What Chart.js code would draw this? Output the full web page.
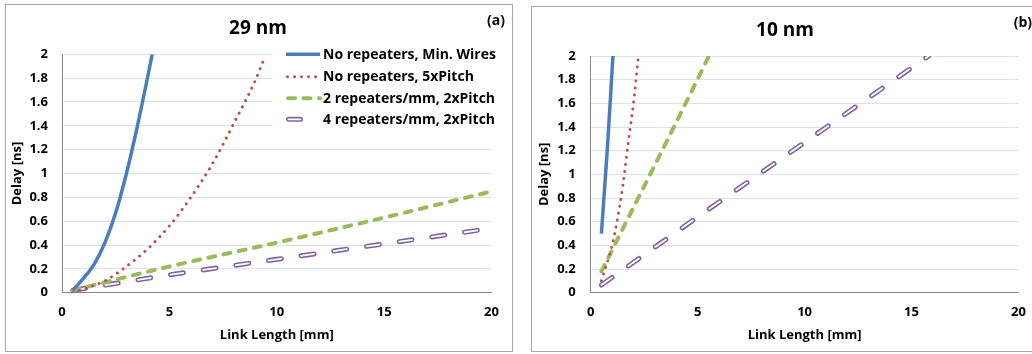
<!DOCTYPE html>
<html><head><meta charset="utf-8">
<script src="https://cdn.jsdelivr.net/npm/chart.js@4"></script>
<style>
html,body{margin:0;padding:0;background:#fff;overflow:hidden;width:1032px;height:354px}
.panel{position:absolute;border:1px solid #a6a6a6;background:#fff}
#pa{left:5px;top:4px;width:506px;height:346px}
#pb{left:531px;top:6px;width:506px;height:344px}
canvas{display:block}
</style></head><body>
<div class="panel" id="pa"><canvas id="ca" width="506" height="346"></canvas></div>
<div class="panel" id="pb"><canvas id="cb" width="506" height="344"></canvas></div>
<script>
// ---------- data ----------
const seriesNames = ['No repeaters, Min. Wires', 'No repeaters, 5xPitch', '2 repeaters/mm, 2xPitch', '4 repeaters/mm, 2xPitch'];
const xTickLabels = ['0', '5', '10', '15', '20'];
const yTickLabels = ['0', '0.2', '0.4', '0.6', '0.8', '1', '1.2', '1.4', '1.6', '1.8', '2'];

// Panel (a) 29 nm
const a_minWires_x = [0.5, 1, 1.5, 2, 2.5, 3, 3.5, 4, 4.2];
const a_minWires_y = [0.02, 0.12, 0.24, 0.42, 0.67, 1.00, 1.39, 1.82, 2.0];
const a_5xPitch_x = [0.5, 1, 2, 3, 4, 5, 6, 7, 8, 9, 9.45];
const a_5xPitch_y = [0.0, 0.03, 0.10, 0.22, 0.37, 0.56, 0.80, 1.08, 1.42, 1.78, 1.98];
const a_2rep_x = [0.5, 5, 10, 15, 20];
const a_2rep_y = [0.02, 0.22, 0.42, 0.63, 0.85];
const a_4rep_x = [0.5, 5, 10, 15, 20];
const a_4rep_y = [0.02, 0.15, 0.28, 0.41, 0.54];

// Panel (b) 10 nm
const b_minWires_x = [0.5, 0.78, 1.04];
const b_minWires_y = [0.5, 1.22, 2.0];
const b_5xPitch_x = [0.5, 1.0, 1.25, 1.5, 1.75, 2.0, 2.23];
const b_5xPitch_y = [0.1, 0.40, 0.62, 0.90, 1.26, 1.60, 2.0];
const b_2rep_x = [0.5, 2, 4, 5.5];
const b_2rep_y = [0.18, 0.72, 1.44, 1.99];
const b_4rep_x = [0.5, 5, 10, 15, 15.8];
const b_4rep_y = [0.065, 0.64, 1.27, 1.90, 2.0];

// ---------- styling ----------
const FONT = '"Open Sans", Lato, sans-serif';
const C_BLUE = '#4a7ebb', C_RED = '#c0504d', C_GREEN = '#9bbb59', C_PURPLE = '#8064a2';

function pts(xs, ys) { return xs.map((x, i) => ({x: x, y: ys[i]})); }

function makeDatasets(s) {
  return [
    {label: seriesNames[0], data: pts(s[0][0], s[0][1]), borderColor: C_BLUE, borderWidth: 3.5,
     cubicInterpolationMode: 'monotone', borderCapStyle: 'butt'},
    {label: seriesNames[1], data: pts(s[1][0], s[1][1]), borderColor: C_RED, borderWidth: 3,
     borderDash: [0.01, 7], borderCapStyle: 'round', cubicInterpolationMode: 'monotone'},
    {label: seriesNames[2], data: pts(s[2][0], s[2][1]), borderColor: C_GREEN, borderWidth: 4,
     borderDash: [7, 8.5], borderCapStyle: 'round', cubicInterpolationMode: 'monotone'},
    {label: 'inner', data: pts(s[3][0], s[3][1]), borderColor: '#ffffff', borderWidth: 1.8,
     borderDash: [13, 20], borderCapStyle: 'round'},
    {label: seriesNames[3], data: pts(s[3][0], s[3][1]), borderColor: C_PURPLE, borderWidth: 5,
     borderDash: [13, 20], borderCapStyle: 'round'}
  ];
}

function decorPlugin(cfg) {
  return {
    id: 'decor',
    beforeDatasetsDraw(chart) {
      if (!cfg.legend) return;
      const ctx = chart.ctx;
      const L = cfg.legend;
      ctx.save();
      ctx.fillStyle = '#ffffff';
      ctx.fillRect(L.box[0], L.box[1], L.box[2], L.box[3]);
      ctx.font = 'bold 14px ' + FONT;
      ctx.fillStyle = '#000';
      ctx.textBaseline = 'middle';
      ctx.textAlign = 'left';
      L.rows.forEach((y, i) => {
        ctx.save();
        ctx.beginPath();
        if (i === 0) {
          ctx.strokeStyle = C_BLUE; ctx.lineWidth = 3.5; ctx.lineCap = 'butt';
          ctx.moveTo(L.x0, y); ctx.lineTo(L.x1, y); ctx.stroke();
        } else if (i === 1) {
          ctx.strokeStyle = C_RED; ctx.lineWidth = 3; ctx.lineCap = 'round'; ctx.setLineDash([0.01, 7]);
          ctx.moveTo(L.x0 + 1.5, y); ctx.lineTo(L.x1, y); ctx.stroke();
        } else if (i === 2) {
          ctx.strokeStyle = C_GREEN; ctx.lineWidth = 4; ctx.lineCap = 'round'; ctx.setLineDash([7, 8.5]);
          ctx.moveTo(L.x0 + 2, y); ctx.lineTo(L.x1, y); ctx.stroke();
        } else {
          ctx.strokeStyle = C_PURPLE; ctx.lineWidth = 5; ctx.lineCap = 'round';
          ctx.moveTo(L.x0 + 2.5, y); ctx.lineTo(L.x0 + 14.5, y); ctx.stroke();
          ctx.beginPath(); ctx.strokeStyle = '#fff'; ctx.lineWidth = 1.8;
          ctx.moveTo(L.x0 + 2.5, y); ctx.lineTo(L.x0 + 14.5, y); ctx.stroke();
        }
        ctx.restore();
        ctx.fillText(seriesNames[i], L.tx, y + 0.5);
      });
      ctx.restore();
    },
    afterDraw(chart) {
      const ctx = chart.ctx;
      ctx.save();
      ctx.fillStyle = '#000';
      ctx.textBaseline = 'middle';
      ctx.font = 'bold 19px ' + FONT;
      ctx.textAlign = 'center';
      ctx.fillText(cfg.title, cfg.titleX, cfg.titleY);
      ctx.font = 'bold 14px ' + FONT;
      ctx.textAlign = 'right';
      ctx.fillText(cfg.tag, cfg.tagX, cfg.tagY);
      ctx.restore();
    }
  };
}

function makeChart(id, series, g) {
  return new Chart(document.getElementById(id), {
    type: 'line',
    data: {datasets: makeDatasets(series)},
    options: {
      responsive: false,
      animation: false,
      events: [],
      layout: {padding: {top: g.top, right: g.right, left: 0, bottom: 0}},
      elements: {point: {radius: 0}, line: {fill: false, tension: 0}},
      plugins: {legend: {display: false}, tooltip: {enabled: false}, title: {display: false}},
      scales: {
        x: {
          type: 'linear', min: 0, max: 20,
          afterFit(s) { s.height = g.xh; },
          afterBuildTicks(s) { s.ticks = xTickLabels.map(v => ({value: Number(v)})); },
          ticks: {stepSize: 5, padding: 12, color: '#000', font: {family: FONT, size: 13, weight: 'bold'},
                  callback: (v, i) => xTickLabels[i], maxRotation: 0, autoSkip: false},
          grid: {display: false, drawTicks: false},
          border: {display: true, color: '#868686', width: 1},
          title: {display: true, text: 'Link Length [mm]', color: '#000',
                  font: {family: FONT, size: 13, weight: 'bold'}, padding: {top: 0, bottom: 8}}
        },
        y: {
          type: 'linear', min: 0, max: 2,
          afterFit(s) { s.width = g.yw; },
          afterBuildTicks(s) { s.ticks = yTickLabels.map(v => ({value: Number(v)})); },
          ticks: {stepSize: 0.2, padding: g.ypad, color: '#000', font: {family: FONT, size: 13, weight: 'bold'},
                  callback: (v, i) => yTickLabels[i], autoSkip: false},
          grid: {color: '#d9e2f1', lineWidth: 1, drawTicks: false},
          border: {display: true, color: '#868686', width: 1},
          title: {display: true, text: 'Delay [ns]', color: '#000',
                  font: {family: FONT, size: 13, weight: 'bold'}, padding: {top: g.ytp, bottom: 0}}
        }
      }
    },
    plugins: [decorPlugin(g.decor)]
  });
}

makeChart('ca',
  [[a_minWires_x, a_minWires_y], [a_5xPitch_x, a_5xPitch_y], [a_2rep_x, a_2rep_y], [a_4rep_x, a_4rep_y]],
  {top: 49.3, right: 20.5, xh: 58.3, yw: 56, ypad: 14, ytp: 3,
   decor: {title: '29 nm', titleX: 252, titleY: 24, tag: '(a)', tagX: 499, tagY: 16,
           legend: {box: [266, 40, 220, 85], rows: [49.3, 71.7, 93.3, 114.3], x0: 280, x1: 314, tx: 317}}});

makeChart('cb',
  [[b_minWires_x, b_minWires_y], [b_5xPitch_x, b_5xPitch_y], [b_2rep_x, b_2rep_y], [b_4rep_x, b_4rep_y]],
  {top: 49, right: 19.5, xh: 58.3, yw: 58.7, ypad: 15, ytp: 4,
   decor: {title: '10 nm', titleX: 253, titleY: 24, tag: '(b)', tagX: 500, tagY: 16, legend: null}});
</script>
</body></html>
